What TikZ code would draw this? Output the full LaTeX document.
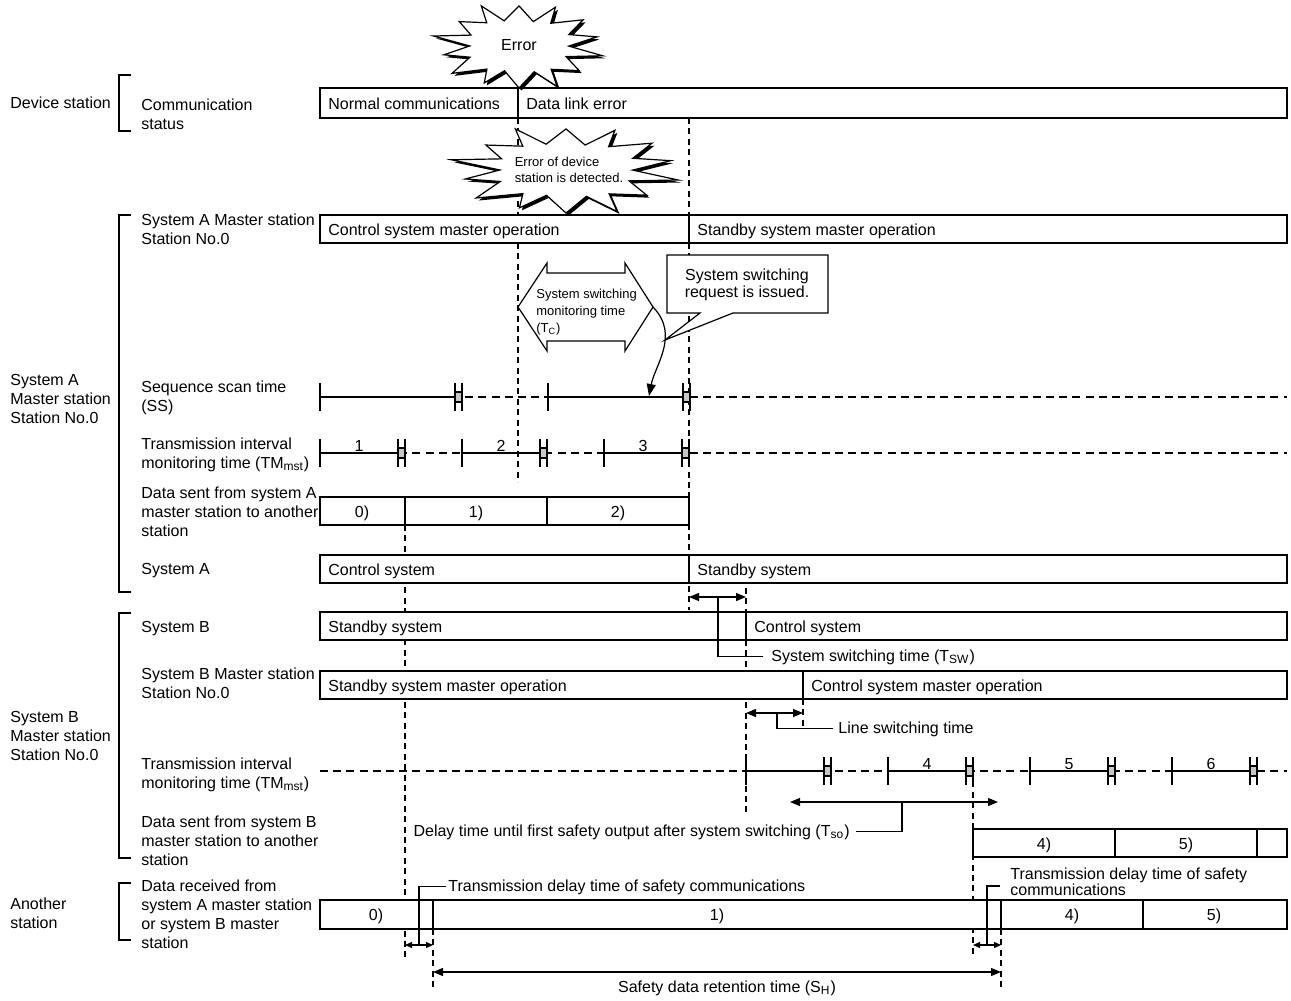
\documentclass[tikz,border=0pt]{standalone}
\usepackage{fontspec}
\setmainfont{Liberation Sans}
\usetikzlibrary{arrows.meta}

\tikzset{
  every node/.style={inner sep=0pt, font=\fontsize{8}{9.5}\selectfont},
  lbl/.style={anchor=base west, align=left},
  cnum/.style={anchor=base},
  smalltxt/.style={font=\fontsize{6.5}{8.3}\selectfont},
  cell/.style={draw, fill=white, line width=0.6pt},
  lead/.style={line width=0.6pt},
  guide/.style={line width=0.6pt, dash pattern=on 3pt off 2.2pt},
  wait/.style={line width=0.6pt, dash pattern=on 4pt off 2.6pt},
  dimarrow/.style={lead, >={Triangle[length=5pt,width=4pt]}, <->},
  tinyarrow/.style={lead, >={Triangle[length=3.5pt,width=3pt]}, <->},
  declare function={
    bf(\k)=ifthenelse(mod(\k,2)==0, 1+0.07*sin(100*\k), 0.64+0.04*cos(130*\k));
    ba(\k)=90+\k*360/28+ifthenelse(mod(\k,2)==1, 4*sin(77*\k), 0);}
}

% jagged "burst" outline with a dark offset edge
\newcommand\burst[4]{%
  \fill[shift={(2.5,2.5)}] plot[variable=\k, samples at={0,...,27}]
    ({#1+#3*bf(\k)*cos(ba(\k))}, {#2+#4*bf(\k)*sin(ba(\k))}) -- cycle;
  \draw[cell] plot[variable=\k, samples at={0,...,27}]
    ({#1+#3*bf(\k)*cos(ba(\k))}, {#2+#4*bf(\k)*sin(ba(\k))}) -- cycle;
}
\newcommand\tmtick[2]{\draw[lead] (#1,{#2-14}) -- (#1,{#2+14});}
\newcommand\tmmark[2]{%
  \draw[lead, fill=black!22] ({#1-7},{#2-5}) rectangle (#1,{#2+5});
  \draw[lead] ({#1-7},{#2-14}) -- ({#1-7},{#2+14}) (#1,{#2-14}) -- (#1,{#2+14});}

\begin{document}
\begin{tikzpicture}[x=0.5pt, y=-0.5pt]
\useasboundingbox (0,0) rectangle (1291,1001);

% dashed guides
\foreach \x/\a/\b in {518/118/482, 689/118/610, 746/588/815, 803/699/727,
                      405/525/957, 973/771/957, 433/929/987, 1001/929/987}
  \draw[guide] (\x,\a) -- (\x,\b);

% brackets
\foreach \a/\b in {75/131, 215/592, 613/858, 883/940}
  \draw[lead] (131,\a) -- (119,\a) -- (119,\b) -- (131,\b);

% left labels (base = last line)
\node[lbl] (dev) at (10,108) {Device station};
\node[lbl] (grpa) at (10,423) {System A\\Master station\\Station No.0};
\node[lbl] (grpb) at (10,760) {System B\\Master station\\Station No.0};
\node[lbl] (grpo) at (10,928) {Another\\station};

\node[lbl] (comm) at (141,129) {Communication\\status};
\node[lbl] (amst) at (141,244) {System A Master station\\Station No.0};
\node[lbl] (ss) at (141,411) {Sequence scan time\\(SS)};
\node[lbl] (tma) at (141,468) {Transmission interval\\monitoring time (TM\textsubscript{mst})};
\node[lbl] (senda) at (141,536) {Data sent from system A\\master station to another\\station};
\node[lbl] (cpa) at (141,574) {System A};
\node[lbl] (cpb) at (141,632) {System B};
\node[lbl] (bmst) at (141,698) {System B Master station\\Station No.0};
\node[lbl] (tmb) at (141,788) {Transmission interval\\monitoring time (TM\textsubscript{mst})};
\node[lbl] (sendb) at (141,865) {Data sent from system B\\master station to another\\station};
\node[lbl] (recv) at (141,948) {Data received from\\system A master station\\or system B master\\station};

% status bars
\foreach \t/\b/\d in {88/118/518, 215/243/689, 555/583/689, 612/640/746, 671/699/803}{
  \draw[cell] (320,\t) rectangle (1287,\b);
  \draw[lead] (\d,\t) -- (\d,\b);
}
\node[lbl] (ncom) at (328,109) {Normal communications};
\node[lbl] (dle) at (526,109) {Data link error};
\node[lbl] (actl) at (328,235) {Control system master operation};
\node[lbl] (astb) at (697,235) {Standby system master operation};
\node[lbl] (sactl) at (328,575) {Control system};
\node[lbl] (sastb) at (697,575) {Standby system};
\node[lbl] (sbstb) at (328,632) {Standby system};
\node[lbl] (sbctl) at (754,632) {Control system};
\node[lbl] (bstb) at (328,691) {Standby system master operation};
\node[lbl] (bctl) at (811,691) {Control system master operation};

% data boxes
\draw[cell] (320,497) rectangle (689,525);
\foreach \d in {405,547} \draw[lead] (\d,497) -- (\d,525);
\draw[cell] (973,829) rectangle (1287,857);
\foreach \d in {1115,1257} \draw[lead] (\d,829) -- (\d,857);
\draw[cell] (320,900) rectangle (1287,929);
\foreach \d in {433,1001,1143} \draw[lead] (\d,900) -- (\d,929);
\foreach \n/\x/\y/\s in {a0/362/517/0, a1/476/517/1, a2/618/517/2, b4/1044/849/4, b5/1186/849/5,
                         o0/376/920/0, o1/717/920/1, o4/1072/920/4, o5/1214/920/5}
  \node[cnum] (\n) at (\x,\y) {\s)};

% error bursts
\burst{519}{46}{82}{42}
\node (err) at (519,45) {Error};
\burst{566}{170}{110}{43}
\node[smalltxt, align=left] (det) at (569,170) {Error of device\\station is detected.};

% monitoring time and request callout
\draw[cell] (518,307) -- (547,263) -- (547,273) -- (625,273) -- (625,263) -- (653,307)
  -- (625,351) -- (625,341) -- (547,341) -- (547,351) -- cycle;
\node[smalltxt, lbl] (tc) at (536,332) {System switching\\monitoring time\\(T\textsubscript{C})};
\draw[cell] (667,255) -- (828,255) -- (828,313) -- (733,313) -- (665,340) -- (700,313)
  -- (667,313) -- cycle;
\node[align=center, font=\fontsize{8}{8.5}\selectfont] (req) at (747,285) {System switching\\request is issued.};
\draw[lead, -{Triangle[length=6pt,width=4.5pt]}] (653,307) .. controls (680,335) and (655,365) .. (649,396);

% sequence scan
\draw[wait] (320,397) -- (1287,397);
\draw[lead] (320,397) -- (455,397) (548,397) -- (682,397);
\foreach \t in {320,548} {\tmtick{\t}{397} \tmmark{\t+142}{397}}

% transmission interval monitoring rows
\draw[wait] (320,453) -- (1287,453);
\draw[wait] (320,771) -- (1287,771);
\foreach \t/\y/\n in {320/453/1, 462/453/2, 604/453/3, 746/771/, 888/771/4, 1030/771/5, 1172/771/6}{
  \draw[lead] (\t,\y) -- ({\t+78},\y);
  \tmtick{\t}{\y}
  \tmmark{\t+85}{\y}
  \node[cnum] (tm\t) at ({\t+39},{\y-2}) {\n};
}

% system switching time
\draw[dimarrow] (689,597) -- (746,597);
\node[lbl] (tsw) at (771,661) {System switching time (T\textsubscript{SW})};
\draw[lead] (718,597) |- ([xshift=-4pt]tsw.west);

% line switching time
\draw[dimarrow] (746,713) -- (803,713);
\node[lbl] (lsw) at (838,733) {Line switching time};
\draw[lead] (777,713) |- ([xshift=-2.5pt]lsw.west);

% first safety output delay
\draw[dimarrow] (790,802) -- (998,802);
\node[anchor=base east] (tso) at (850,836) {Delay time until first safety output after system switching (T\textsubscript{so})};
\draw[lead] (902,802) |- ([xshift=3pt]tso.east);

% transmission delays
\draw[tinyarrow] (405,945) -- (433,945);
\node[lbl] (td1) at (448,891) {Transmission delay time of safety communications};
\draw[lead] (419,945) |- ([xshift=-1pt]td1.west);
\draw[tinyarrow] (973,945) -- (1001,945);
\node[lbl, font=\fontsize{8}{7.6}\selectfont] (td2) at (1010,895) {Transmission delay time of safety\\communications};
\draw[lead] (987,945) |- (1000,886);

% safety data retention
\draw[dimarrow] (433,972) -- (1001,972);
\node[cnum] (sh) at (727,992) {Safety data retention time (S\textsubscript{H})};
\end{tikzpicture}
\end{document}
